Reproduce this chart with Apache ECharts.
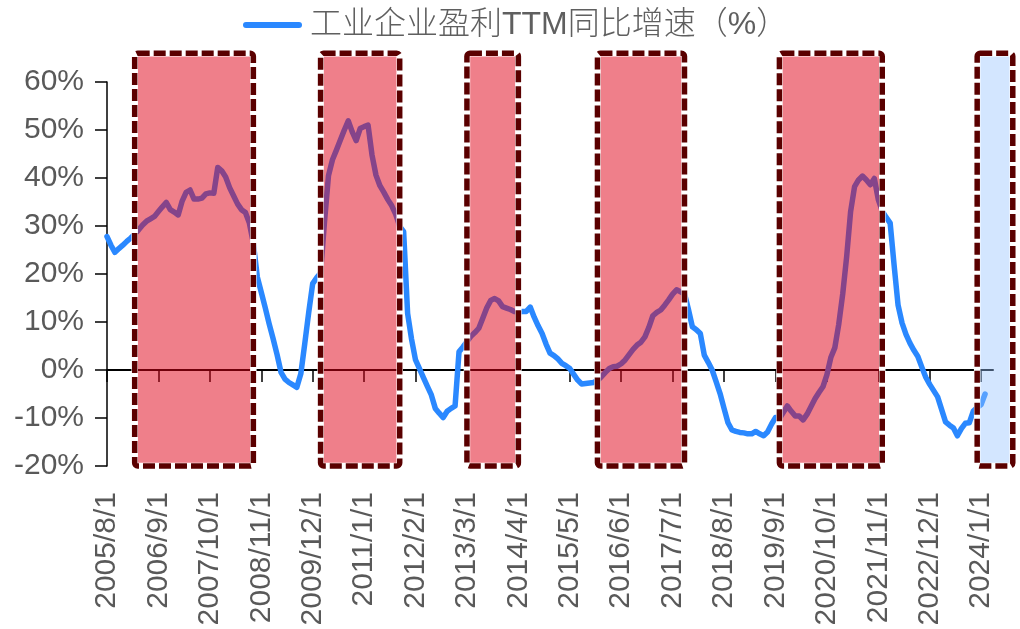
<!DOCTYPE html>
<html>
<head>
<meta charset="utf-8">
<script src="https://cdn.jsdelivr.net/npm/echarts@6/dist/echarts.min.js"></script>
<style>
  html, body { margin: 0; padding: 0; background: #fff; }
  #chart { width: 1020px; height: 629px; }
</style>
</head>
<body>
<div id="chart"></div>
<script>
// Monthly axis from 2005/8 through 2024/4 (labels like "2005/8/1")
const startYear = 2005, startMonth = 8, monthCount = 225;
const categories = [];
for (let i = 0; i < monthCount; i++) {
  const t = (startMonth - 1) + i;
  categories.push((startYear + Math.floor(t / 12)) + '/' + (t % 12 + 1) + '/1');
}

const seriesName = '工业企业盈利TTM同比增速（%）';

// TTM YoY growth of industrial profits, %, one value per month from 2005/8
const profitGrowth = [
  27.8, 26.0, 24.5, 25.3, 26.0, 26.8, 27.5, 28.3, 29.2, 30.2,
  31.0, 31.5, 32.0, 33.0, 34.0, 34.9, 33.4, 32.9, 32.3, 35.2,
  37.0, 37.5, 35.6, 35.6, 35.8, 36.7, 36.9, 36.8, 42.2, 41.5,
  40.2, 38.0, 36.3, 34.6, 33.4, 32.8, 30.6, 26.4, 19.4, 16.2,
  13.0, 9.6, 6.5, 3.2, -0.5, -1.9, -2.6, -3.1, -3.6, -0.8,
  5.5, 12.0, 18.0, 19.2, 20.2, 31.0, 40.5, 43.8, 45.8, 47.9,
  50.0, 51.9, 49.6, 47.8, 50.3, 50.7, 51.0, 44.8, 40.6, 38.4,
  37.0, 35.5, 34.2, 32.4, 29.9, 28.8, 11.8, 6.4, 2.1, 0.3,
  -1.6, -3.4, -5.2, -8.0, -9.0, -9.9, -8.6, -8.0, -7.5, 3.8,
  4.8, 5.9, 7.0, 7.8, 8.7, 10.8, 12.9, 14.5, 14.9, 14.4,
  13.2, 12.9, 12.6, 12.2, 12.1, 12.2, 12.2, 13.1, 11.0, 9.2,
  7.6, 5.4, 3.5, 3.0, 2.3, 1.4, 0.9, 0.3, -0.9, -2.1,
  -2.9, -2.8, -2.7, -2.6, -2.2, -1.4, -0.5, 0.3, 0.7, 0.8,
  1.3, 2.1, 3.2, 4.3, 5.2, 5.8, 6.9, 8.9, 11.3, 12.0,
  12.5, 13.5, 14.6, 15.8, 16.7, 16.3, 15.9, 12.6, 9.0, 8.4,
  7.6, 3.1, 1.6, 0.0, -2.4, -4.9, -8.0, -11.0, -12.5, -12.8,
  -13.0, -13.1, -13.3, -13.3, -12.8, -13.3, -13.7, -12.9, -11.3, -9.9,
  -10.1, -8.8, -7.5, -8.6, -9.6, -9.6, -10.4, -9.2, -7.6, -6.0,
  -4.7, -3.5, -1.0, 2.6, 4.6, 9.5, 15.8, 23.6, 33.0, 38.2,
  39.6, 40.4, 39.6, 38.6, 39.9, 35.5, 33.1, 31.8, 30.6, 21.8,
  13.5, 9.8, 7.4, 5.6, 4.1, 2.8, 0.6, -1.5, -3.0, -4.3,
  -5.6, -8.2, -10.8, -11.5, -12.1, -13.7, -12.2, -11.1, -11.0, -8.6,
  -7.8, -7.2, -5.0
];

// Highlighted periods: [start month, end month, kind]
const shadedPeriods = [
  ['2006/3/1', '2008/9/1', 'up'],
  ['2010/2/1', '2011/10/1', 'up'],
  ['2013/3/1', '2014/4/1', 'up'],
  ['2015/12/1', '2017/10/1', 'up'],
  ['2019/10/1', '2021/12/1', 'up'],
  ['2023/12/1', '2024/9/1', 'now']
];
const bandTop = 66, bandBottom = -20;

const yTicks = { min: -20, max: 60, step: 10 };

function monthIndex(label) {
  const parts = label.split('/').map(Number);
  return (parts[0] - startYear) * 12 + (parts[1] - startMonth);
}

const fills = { up: 'rgba(223,0,21,0.5)', now: 'rgba(150,195,255,0.42)' };
const textFont = '"Liberation Sans", Arial, "Noto Sans CJK SC", sans-serif';

const chart = echarts.init(document.getElementById('chart'), null, { renderer: 'canvas' });

chart.setOption({
  animation: false,
  backgroundColor: '#ffffff',
  legend: {
    left: 243,
    top: 9,
    padding: 0,
    data: [seriesName],
    icon: 'path://M3,0 H56 A3,3 0 0 1 56,6 H3 A3,3 0 0 1 3,0 Z',
    itemWidth: 59,
    itemHeight: 6,
    textStyle: {
      fontSize: 32,
      color: '#5f5f5f',
      fontFamily: textFont,
      fontWeight: 300,
      padding: [0, 0, 0, 3]
    }
  },
  grid: { left: 107, right: 27, top: 82, bottom: 163, containLabel: false },
  xAxis: [
    {
      type: 'category',
      data: categories,
      boundaryGap: false,
      min: 0,
      max: monthCount - 1,
      position: 'bottom',
      axisLine: { show: false, onZero: false },
      axisTick: { show: false },
      axisLabel: {
        interval: 12,
        rotate: 90,
        margin: 26,
        fontSize: 30,
        color: '#595959',
        fontFamily: textFont
      },
      splitLine: { show: false }
    },
    {
      type: 'category',
      data: categories,
      boundaryGap: false,
      min: 0,
      max: monthCount - 1,
      position: 'bottom',
      axisLine: { show: true, onZero: true, lineStyle: { color: '#000', width: 2 } },
      axisTick: { show: true, interval: 12, length: 12, lineStyle: { color: '#000', width: 1.5 } },
      axisLabel: { show: false },
      splitLine: { show: false }
    }
  ],
  yAxis: {
    type: 'value',
    min: yTicks.min,
    max: yTicks.max,
    interval: yTicks.step,
    axisLine: { show: true, lineStyle: { color: '#000', width: 1.5 } },
    axisTick: { show: true, length: 12, lineStyle: { color: '#000', width: 1.5 } },
    axisLabel: {
      formatter: '{value}%',
      margin: 23,
      fontSize: 30,
      color: '#595959',
      fontFamily: textFont
    },
    splitLine: { show: false }
  },
  series: [
    {
      name: seriesName,
      type: 'line',
      xAxisIndex: 0,
      data: profitGrowth,
      symbol: 'none',
      z: 2,
      lineStyle: { color: '#2a88ff', width: 5.5, cap: 'round', join: 'round' },
      itemStyle: { color: '#2a88ff' }
    },
    {
      type: 'custom',
      xAxisIndex: 0,
      z: 5,
      silent: true,
      clip: false,
      data: shadedPeriods.map(p => [monthIndex(p[0]), monthIndex(p[1])]),
      encode: { x: [0, 1] },
      renderItem: function (params, api) {
        const p = shadedPeriods[params.dataIndex];
        const a = api.coord([monthIndex(p[0]), bandTop]);
        const b = api.coord([monthIndex(p[1]), bandBottom]);
        const shape = { x: a[0], y: a[1], width: b[0] - a[0], height: b[1] - a[1], r: 3 };
        return {
          type: 'group',
          children: [
            { type: 'rect', shape: shape, style: { fill: fills[p[2]], stroke: '#ffffff', lineWidth: 6.5 } },
            { type: 'rect', shape: shape, style: { fill: null, stroke: '#5a0000', lineWidth: 5.5, lineDash: [12, 4] } }
          ]
        };
      }
    }
  ]
});
</script>
</body>
</html>
